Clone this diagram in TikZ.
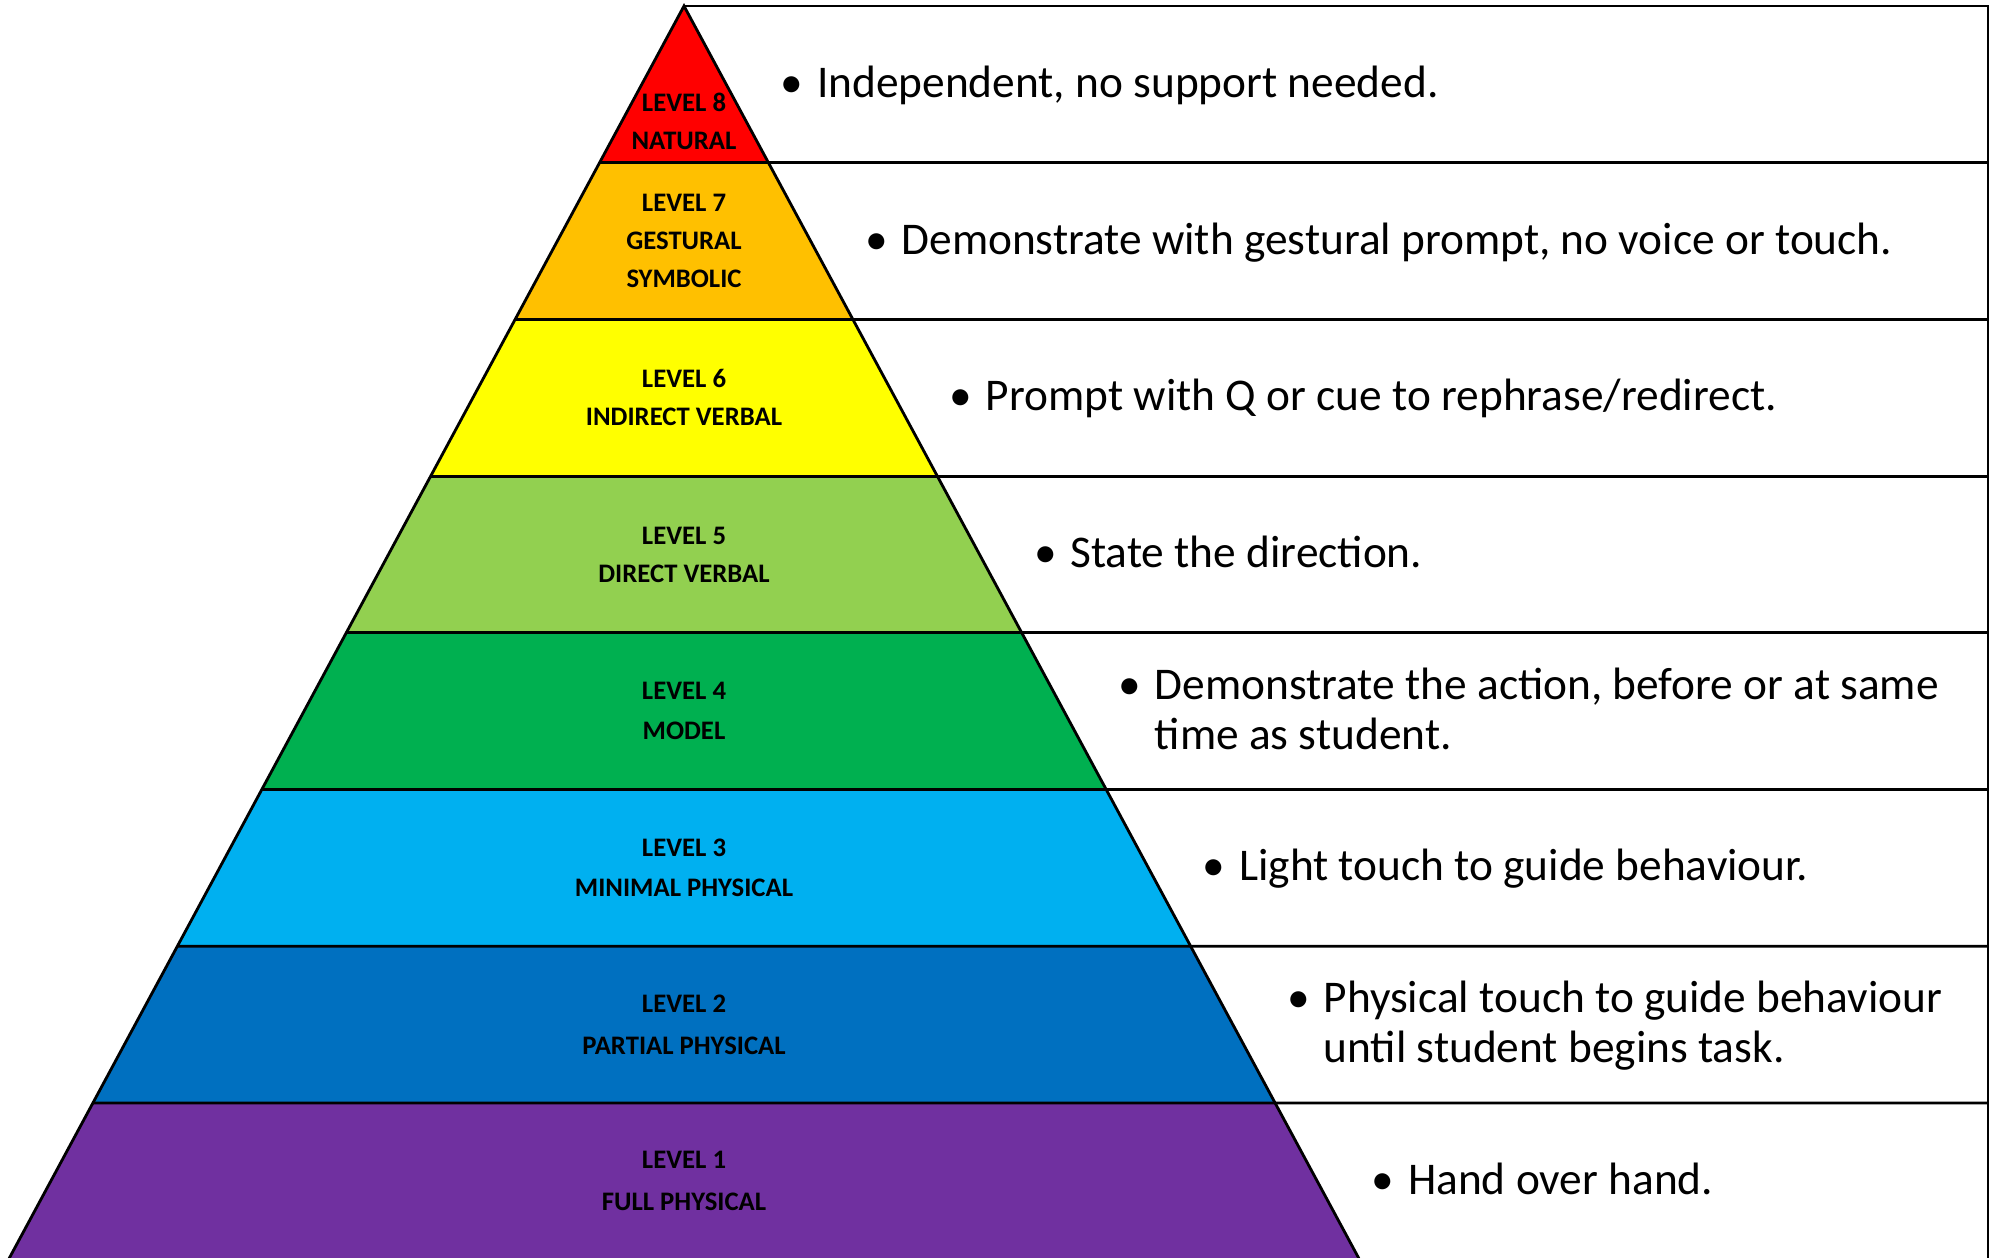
\documentclass[tikz,border=0pt]{standalone}
\usepackage{fontspec}
\setmainfont{Carlito}
\usetikzlibrary{calc}
\definecolor{lvred}{HTML}{FF0000}
\definecolor{lvgold}{HTML}{FFC000}
\definecolor{lvyellow}{HTML}{FFFF00}
\definecolor{lvlime}{HTML}{92D050}
\definecolor{lvgreen}{HTML}{00B050}
\definecolor{lvsky}{HTML}{00B0F0}
\definecolor{lvblue}{HTML}{0070C0}
\definecolor{lvpurple}{HTML}{7030A0}
\newcommand{\pbul}{\makebox[14.2pt]{\textbullet}}

\begin{document}
\begin{tikzpicture}[
  x=0.01cm, y=-0.01cm,
  rule/.style={draw=black, line width=0.8pt},
  band/.style={fill=#1},
  lbl/.style={align=center, inner sep=0pt, font=\fontsize{7.6}{10.8}\selectfont\bfseries},
  desc/.style={anchor=west, inner sep=0pt, font=\fontsize{12.9}{14.2}\selectfont},
]
\useasboundingbox (0,0) rectangle (1997,1257);
\clip (0,0) rectangle (1997,1257);

\coordinate (apex) at (684,6);
\coordinate (baseL) at (8.5,1259.6);
\coordinate (baseR) at (1359.5,1259.6);

% Pyramid bands, top to bottom
\fill[band=lvred] (apex) -- ($(apex)!0.125!(baseL)$) -- ($(apex)!0.125!(baseR)$) -- cycle;
\fill[band=lvgold] ($(apex)!0.125!(baseL)$) -- ($(apex)!0.25!(baseL)$) -- ($(apex)!0.25!(baseR)$) -- ($(apex)!0.125!(baseR)$) -- cycle;
\fill[band=lvyellow] ($(apex)!0.25!(baseL)$) -- ($(apex)!0.375!(baseL)$) -- ($(apex)!0.375!(baseR)$) -- ($(apex)!0.25!(baseR)$) -- cycle;
\fill[band=lvlime] ($(apex)!0.375!(baseL)$) -- ($(apex)!0.5!(baseL)$) -- ($(apex)!0.5!(baseR)$) -- ($(apex)!0.375!(baseR)$) -- cycle;
\fill[band=lvgreen] ($(apex)!0.5!(baseL)$) -- ($(apex)!0.625!(baseL)$) -- ($(apex)!0.625!(baseR)$) -- ($(apex)!0.5!(baseR)$) -- cycle;
\fill[band=lvsky] ($(apex)!0.625!(baseL)$) -- ($(apex)!0.75!(baseL)$) -- ($(apex)!0.75!(baseR)$) -- ($(apex)!0.625!(baseR)$) -- cycle;
\fill[band=lvblue] ($(apex)!0.75!(baseL)$) -- ($(apex)!0.875!(baseL)$) -- ($(apex)!0.875!(baseR)$) -- ($(apex)!0.75!(baseR)$) -- cycle;
\fill[band=lvpurple] ($(apex)!0.875!(baseL)$) -- (baseL) -- (baseR) -- ($(apex)!0.875!(baseR)$) -- cycle;

% Outline and table rules
\draw[rule] (baseL) -- (apex) -- (baseR);
\draw[rule] (apex) -- (1988,6) -- (1988,1260);
\draw[rule] ($(apex)!0.125!(baseL)$) -- (1988,162.7);
\draw[rule] ($(apex)!0.25!(baseL)$) -- (1988,319.4);
\draw[rule] ($(apex)!0.375!(baseL)$) -- (1988,476.1);
\draw[rule] ($(apex)!0.5!(baseL)$) -- (1988,632.8);
\draw[rule] ($(apex)!0.625!(baseL)$) -- (1988,789.5);
\draw[rule] ($(apex)!0.75!(baseL)$) -- (1988,946.2);
\draw[rule] ($(apex)!0.875!(baseL)$) -- (1988,1102.9);

% Level labels
\node[lbl] (lv8) at (684,121) {LEVEL 8\\NATURAL};
\node[lbl] (lv7) at (684,241.1) {LEVEL 7\\GESTURAL\\SYMBOLIC};
\node[lbl] (lv6) at (684,397.8) {LEVEL 6\\INDIRECT VERBAL};
\node[lbl] (lv5) at (684,554.5) {LEVEL 5\\DIRECT VERBAL};
\node[lbl] (lv4) at (684,711.2) {LEVEL 4\\[0.5pt]MODEL};
\node[lbl] (lv3) at (684,867.9) {LEVEL 3\\[0.5pt]MINIMAL PHYSICAL};
\node[lbl] (lv2) at (684,1024.6) {LEVEL 2\\[1.2pt]PARTIAL PHYSICAL};
\node[lbl] (lv1) at (684,1181) {LEVEL 1\\[1.2pt]FULL PHYSICAL};

% Descriptions
\node[desc] (d8) at (766.4,87.4) {\begin{tabular}{@{}l@{}l@{}}\pbul & Independent, no support needed.\end{tabular}};
\node[desc] (d7) at (850.9,244.1) {\begin{tabular}{@{}l@{}l@{}}\pbul & Demonstrate with gestural prompt, no voice or touch.\end{tabular}};
\node[desc] (d6) at (935.3,400.8) {\begin{tabular}{@{}l@{}l@{}}\pbul & Prompt with Q or cue to rephrase/redirect.\end{tabular}};
\node[desc] (d5) at (1019.7,557.5) {\begin{tabular}{@{}l@{}l@{}}\pbul & State the direction.\end{tabular}};
\node[desc] (d4) at (1104.2,714.2) {\begin{tabular}{@{}l@{}l@{}}\pbul & Demonstrate the action, before or at same\\ & time as student.\end{tabular}};
\node[desc] (d3) at (1188.6,870.9) {\begin{tabular}{@{}l@{}l@{}}\pbul & Light touch to guide behaviour.\end{tabular}};
\node[desc] (d2) at (1273,1027.6) {\begin{tabular}{@{}l@{}l@{}}\pbul & Physical touch to guide behaviour\\ & until student begins task.\end{tabular}};
\node[desc] (d1) at (1357.5,1184) {\begin{tabular}{@{}l@{}l@{}}\pbul & Hand over hand.\end{tabular}};

\end{tikzpicture}
\end{document}
